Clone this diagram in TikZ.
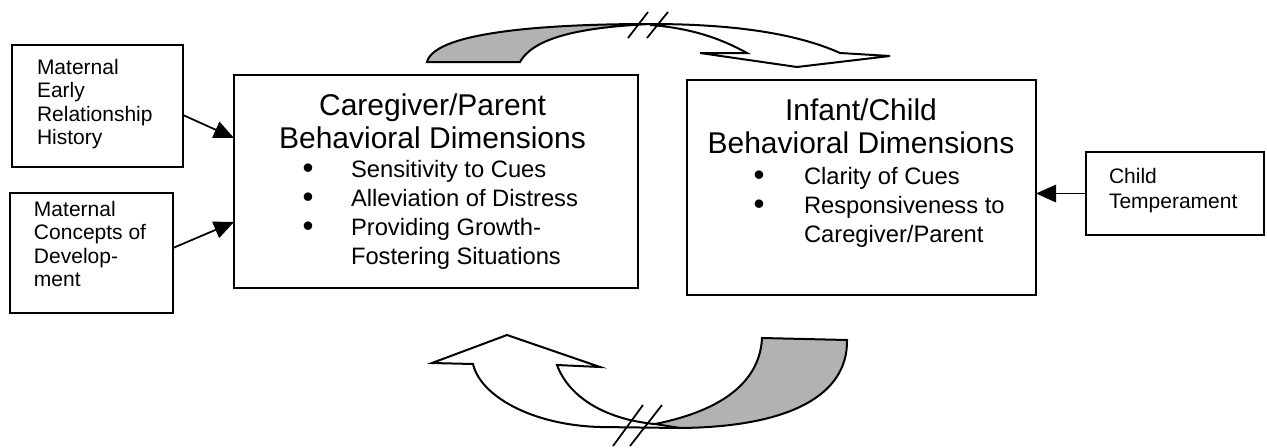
\documentclass[tikz,border=0pt]{standalone}
\usepackage{fontspec}
\setmainfont{Liberation Sans}
\usepackage{tikz}
\usetikzlibrary{arrows.meta}
\usetikzlibrary{calc}
\newcommand\blt{\raisebox{-0.4pt}{\fontsize{12.5}{12}\selectfont\textbullet}}

\begin{document}
\begin{tikzpicture}[x=0.4pt,y=-0.4pt,line width=0.8pt,
    box/.style={draw,rectangle,inner sep=0pt,outer sep=0pt},
    ttl/.style={inner sep=0pt,font=\fontsize{12}{13.2}\selectfont},
    lst/.style={inner sep=0pt,font=\fontsize{9.5}{11.6}\selectfont},
    sml/.style={inner sep=0pt,font=\fontsize{8.4}{9.4}\selectfont},
    feed/.style={-{Triangle[length=8pt,width=7pt]},line width=0.7pt},
    shade/.style={fill=black!30,line width=0.8pt},
    cut/.style={line width=0.7pt}
]
\useasboundingbox (0,0) rectangle (1267,447);

% boxes
\node[box,minimum width=68.4pt,minimum height=48.8pt] (mehist) at (97.5,106) {};
\node[box,minimum width=65.2pt,minimum height=48pt] (mconc) at (91.5,253) {};
\node[box,minimum width=161.6pt,minimum height=85.2pt] (care) at (436,181.5) {};
\node[box,minimum width=139.6pt,minimum height=86pt] (infant) at (861.5,187.5) {};
\node[box,minimum width=71.2pt,minimum height=33.2pt] (temper) at (1175,193.5) {};

% texts
\node[sml,anchor=base west] (mehisttxt) at (36,74)
    {\begin{tabular}[t]{@{}l@{}}Maternal\\Early\\Relationship\\History\end{tabular}};
\node[sml,anchor=base west] (mconctxt) at (33,216)
    {\begin{tabular}[t]{@{}l@{}}Maternal\\Concepts of\\Develop-\\ment\end{tabular}};
\node[sml,anchor=base west] (tempertxt) at (1108,183)
    {\begin{tabular}[t]{@{}l@{}}Child\\[0.6pt]Temperament\end{tabular}};

\node[ttl,anchor=base] (caretitle) at (432.5,115)
    {\begin{tabular}[t]{@{}c@{}}Caregiver/Parent\\Behavioral Dimensions\end{tabular}};
\node[lst,anchor=base west] (carelist) at (264,177)
    {\begin{tabular}[t]{@{}l@{}l@{}}
    \makebox[34.4pt]{\blt} & Sensitivity to Cues\\
    \makebox[34.4pt]{\blt} & Alleviation of Distress\\
    \makebox[34.4pt]{\blt} & Providing Growth-\\
     & Fostering Situations
    \end{tabular}};

\node[ttl,anchor=base] (infanttitle) at (861,120)
    {\begin{tabular}[t]{@{}c@{}}Infant/Child\\Behavioral Dimensions\end{tabular}};
\node[lst,anchor=base west] (infantlist) at (713,184)
    {\begin{tabular}[t]{@{}l@{}l@{}}
    \makebox[36pt]{\blt} & Clarity of Cues\\
    \makebox[36pt]{\blt} & Responsiveness to\\
     & Caregiver/Parent
    \end{tabular}};

% influences
\draw[feed] ($(mehist.east)+(0,9)$) -- ($(care.west)+(0,-43.5)$);
\draw[feed] ($(mconc.east)+(0,-5)$) -- ($(care.west)+(0,40.5)$);
\draw[feed] (temper.west) -- (temper.west -| infant.east);

% upper loop arrow
\draw[shade] (427,62) .. controls (435,30) and (560,24) .. (650,24)
    .. controls (590,27) and (535,35) .. (520,62) -- cycle;
\draw (650,24) .. controls (740,24) and (800,35) .. (840,53)
    -- (890,56) -- (797,67) -- (700,53) -- (747,53)
    .. controls (720,38) and (690,28) .. (650,25);
\draw[cut] (628,38) -- (648,12);
\draw[cut] (647,38) -- (668,12);

% lower loop arrow
\draw[shade] (762,338) -- (847,340) .. controls (848,395) and (790,427) .. (680,428)
    -- (655,424) .. controls (725,410) and (760,380) .. (762,338) -- cycle;
\draw (680,428) -- (600,427) .. controls (530,425) and (480,395) .. (473,364)
    -- (432,363) -- (507,335) -- (600,367) -- (557,365)
    .. controls (570,400) and (610,420) .. (655,424);
\draw[cut] (613,446) -- (643,405);
\draw[cut] (630,446) -- (662,405);
\end{tikzpicture}
\end{document}
